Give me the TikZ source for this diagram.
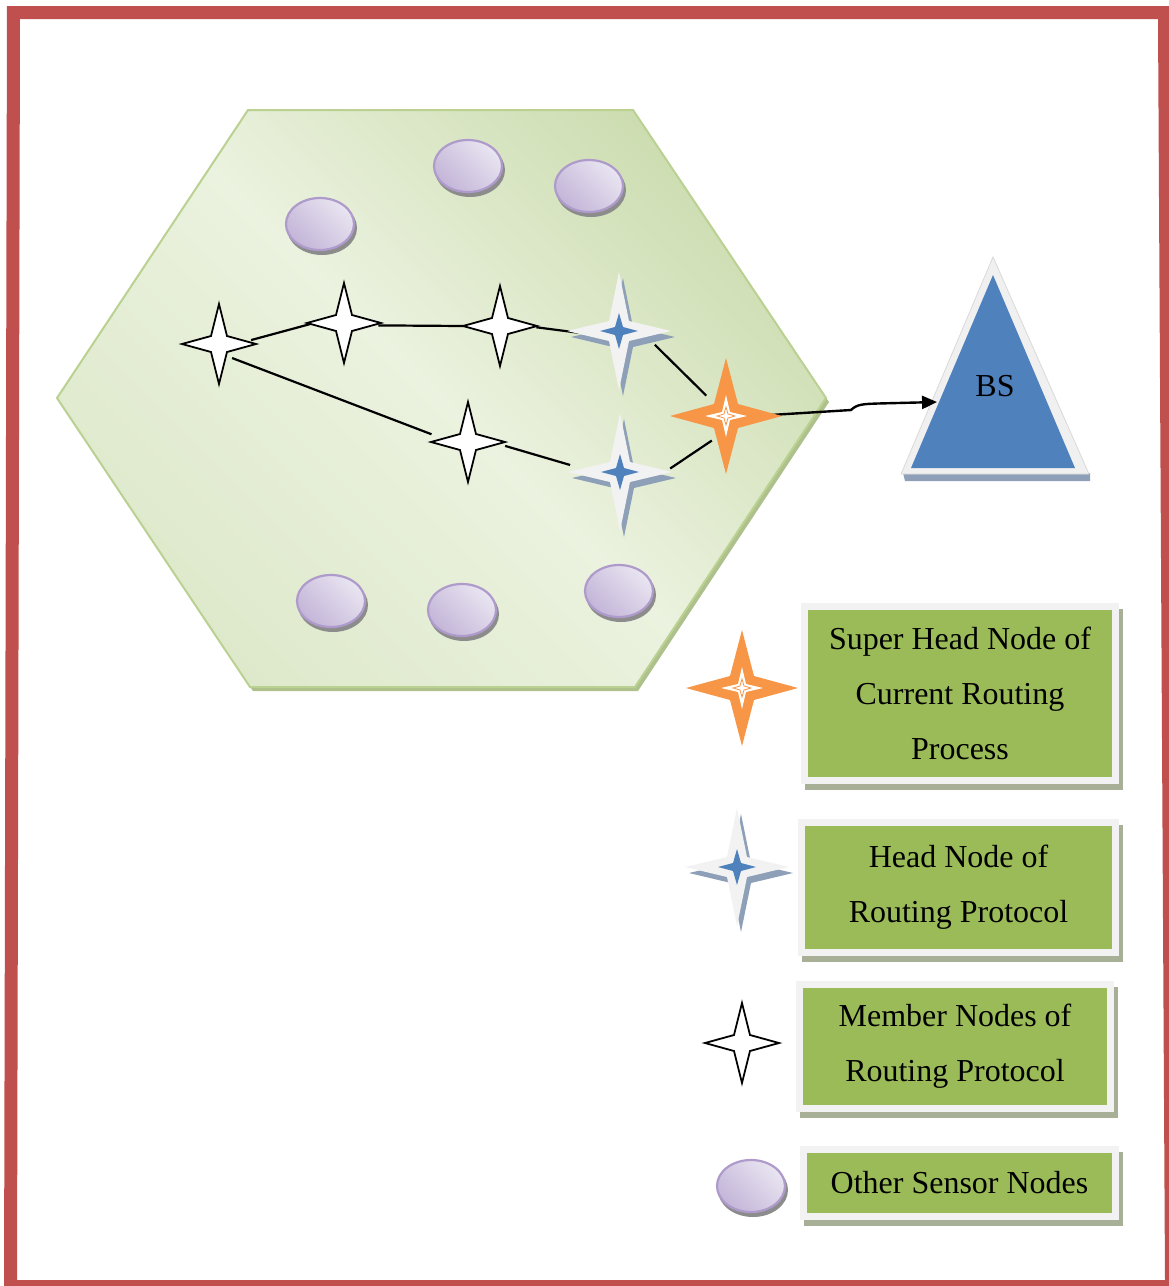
\documentclass[tikz,border=0pt]{standalone}
\usepackage{fontspec}
\setmainfont{Liberation Serif}
\usetikzlibrary{arrows.meta}
\newlength\pxl \setlength\pxl{0.02cm}

\definecolor{framered}{HTML}{C0504D}
\definecolor{hexedge}{HTML}{BAD191}
\definecolor{hexshadow}{HTML}{AEC08C}
\definecolor{hexdark}{HTML}{CDDDB1}
\definecolor{hexmid}{HTML}{EBF2DF}
\definecolor{hexlow}{HTML}{DEE9CB}
\definecolor{orangestar}{HTML}{F79646}
\definecolor{headgray}{HTML}{F2F2F2}
\definecolor{headshadow}{HTML}{8EA0B8}
\definecolor{headblue}{HTML}{4F81BD}
\definecolor{lavdark}{HTML}{C3B5D8}
\definecolor{lavlight}{HTML}{E9E5F1}
\definecolor{lavedge}{HTML}{AE9BCB}
\definecolor{sensorshadow}{HTML}{8C8C8C}
\definecolor{leggreen}{HTML}{9BBB59}
\definecolor{legframe}{HTML}{F2F2F2}
\definecolor{legshadow}{HTML}{A7B097}
\definecolor{bsblue}{HTML}{4F81BD}
\definecolor{bsframe}{HTML}{F0F0F0}
\definecolor{bsshadow}{HTML}{8EA0B8}

\tikzset{
  hub/.style={circle, draw=none, inner sep=0pt, minimum size=2*#1\pxl},
  conn/.style={draw=black, line width=2.2\pxl},
  textfont/.style={font=\fontsize{18.2}{31.3}\selectfont},
  legbox/.style={textfont, fill=leggreen, draw=legframe, line width=7\pxl,
    align=center, inner sep=0pt,
    preaction={fill=legshadow, draw=legshadow,
      transform canvas={xshift=3.5\pxl, yshift=-6\pxl}}},
  memberstar/.pic={
    \draw[fill=white, line width=1.8\pxl, line join=miter]
      (37,0) -- (8,8) -- (0,40) -- (-8,8) -- (-37,0) -- (-8,-8) -- (0,-40) -- (8,-8) -- cycle;},
  headstar/.pic={
    \fill[headshadow, shift={(4,6)}]
      (52,0) -- (10,10) -- (0,59) -- (-10,10) -- (-52,0) -- (-10,-10) -- (0,-59) -- (10,-10) -- cycle;
    \fill[headgray]
      (52,0) -- (10,10) -- (0,59) -- (-10,10) -- (-52,0) -- (-10,-10) -- (0,-59) -- (10,-10) -- cycle;
    \fill[headblue]
      (19,0) -- (4,4) -- (0,18) -- (-4,4) -- (-19,0) -- (-4,-4) -- (0,-18) -- (4,-4) -- cycle;},
  superstar/.pic={
    \fill[orangestar]
      (56,0) -- (12,12) -- (0,58) -- (-12,12) -- (-56,0) -- (-12,-12) -- (0,-58) -- (12,-12) -- cycle;
    \fill[white]
      (21,0) -- (4,4) -- (0,21) -- (-4,4) -- (-21,0) -- (-4,-4) -- (0,-21) -- (4,-4) -- cycle;
    \draw[orangestar, line width=0.8\pxl]
      (9,0) -- (2,2) -- (0,9) -- (-2,2) -- (-9,0) -- (-2,-2) -- (0,-9) -- (2,-2) -- cycle;},
  sensor/.pic={
    \fill[sensorshadow] (2,4) ellipse [x radius=35, y radius=27];
    \draw[lavedge, line width=2.2\pxl, left color=lavdark, right color=lavlight, shading angle=135]
      (0,0) ellipse [x radius=34, y radius=26];}
}

\begin{document}
\begin{tikzpicture}[x=1\pxl, y=-1\pxl]
\useasboundingbox (0,0) rectangle (1169,1286);

% outer red frame
\fill[framered, even odd rule]
  (7,6) -- (1180,6) -- (1185,1296) -- (4,1296) -- cycle
  (20,19) -- (1158,19) -- (1165,1280) -- (17,1280) -- cycle;

% cluster area
\fill[hexshadow] (251,114) -- (636,114) -- (829,402) -- (638,691) -- (253,691) -- (60,402) -- cycle;
\draw[hexedge, line width=2\pxl, top color=hexdark, bottom color=hexlow, middle color=hexmid, shading angle=-45]
  (248,110) -- (633,110) -- (826,398) -- (635,687) -- (250,687) -- (57,398) -- cycle;

% other sensor nodes
\pic at (320,224) {sensor};
\pic at (468,166) {sensor};
\pic at (589,186) {sensor};
\pic at (331,601) {sensor};
\pic at (462,610) {sensor};
\pic at (619,591) {sensor};

% routing nodes
\node[hub=32] (m1) at (219,344) {};
\node[hub=34] (m2) at (344,323) {};
\node[hub=36] (m3) at (500,326) {};
\node[hub=37] (m4) at (468,442) {};
\node[hub=38] (h1) at (619,331) {};
\node[hub=50] (h2) at (620,472) {};
\node[hub=28] (s)  at (726,416) {};

% base station
\fill[bsshadow] (903,473) -- (1090,473) -- (1090,481) -- (905,481) -- cycle;
\filldraw[fill=bsframe, draw=black!15, line width=0.8\pxl] (993,257) -- (1089,474) -- (901,474) -- cycle;
\fill[bsblue] (993,275) -- (1075,468) -- (911,468) -- cycle;
\node[textfont] (bs) at (995,386) {BS};
\coordinate (bsin) at (937,402);

% links
\draw[conn] (m1.7) -- (m2.182);
\draw[conn] (m2.-4) -- (m3.180);
\draw[conn] (m3.-2) -- (h1.183);
\draw[conn] (h1.-21) -- (s.134);
\draw[conn, shorten <=-14\pxl] (m1.-36) -- (m4.168);
\draw[conn] (m4.-6) -- (h2.172);
\draw[conn] (h2.4) -- (s.240);
\draw[conn, line width=2.4\pxl, -{Triangle[length=8.5pt, width=7.4pt]}]
  (s.0) -- (851,410) .. controls (857,404) and (864,404) .. (878,403.5) -- (bsin);

% node symbols
\pic at (m1) {memberstar};
\pic at (m2) {memberstar};
\pic at (m3) {memberstar};
\pic at (m4) {memberstar};
\pic at (h1) {headstar};
\pic at (h2) {headstar};
\pic at (s) {superstar};

% legend
\pic at (742,688) {superstar};
\pic at (737,867) {headstar};
\pic at (742,1043) {memberstar};
\pic at (751,1186) {sensor};

\node[legbox, minimum width=311\pxl, minimum height=174\pxl] (l1) at (960,693.5)
  {Super Head Node of\\Current Routing\\Process};
\node[legbox, minimum width=314\pxl, minimum height=130\pxl] (l2) at (958.5,887.5)
  {Head Node of\\Routing Protocol};
\node[legbox, minimum width=311\pxl, minimum height=124\pxl] (l3) at (955,1046.5)
  {Member Nodes of\\Routing Protocol};
\node[legbox, minimum width=312\pxl, minimum height=67\pxl] (l4) at (959.5,1183)
  {Other Sensor Nodes};
\end{tikzpicture}
\end{document}
